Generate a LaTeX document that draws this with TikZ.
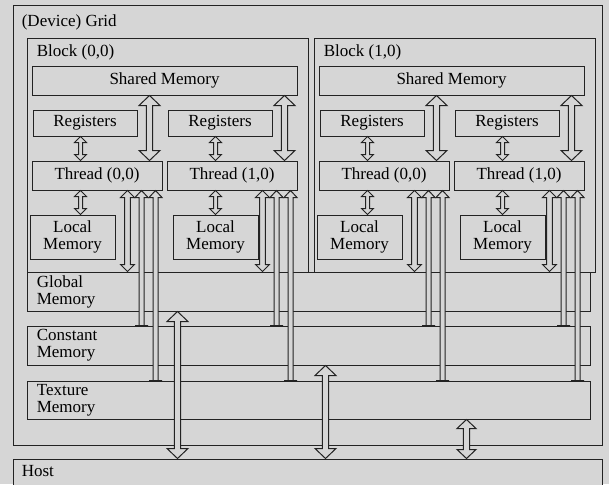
\documentclass[tikz,border=0pt]{standalone}
\usepackage{fontspec}
\setmainfont{Liberation Serif}
\usetikzlibrary{positioning,fit,calc}
\definecolor{paper}{RGB}{214,214,214}
\definecolor{ink}{RGB}{35,35,35}
\def\px{0.6pt}
% hollow block arrow: head half width, shaft half width, top head, bottom head, x point, top, bottom
\newcommand{\fatarrow}[7]{%
  \draw[fat] let \p1=#5, \p2=#6, \p3=#7 in
    (\x1,\y2) -- (\x1+#1*\px,\y2-#3*\px) -- (\x1+#2*\px,\y2-#3*\px)
    -- (\x1+#2*\px,\y3+#4*\px) -- (\x1+#1*\px,\y3+#4*\px) -- (\x1,\y3)
    -- (\x1-#1*\px,\y3+#4*\px) -- (\x1-#2*\px,\y3+#4*\px)
    -- (\x1-#2*\px,\y2-#3*\px) -- (\x1-#1*\px,\y2-#3*\px) -- cycle;}
\newcommand{\bigarr}[3]{\fatarrow{10.5}{3.2}{10}{10}{#1}{#2}{#3}}
\newcommand{\midarr}[3]{\fatarrow{7}{2.8}{7}{7}{#1}{#2}{#3}}
\newcommand{\smallarr}[3]{\fatarrow{6}{2}{6}{6}{#1}{#2}{#3}}
\newcommand{\uparr}[3]{\fatarrow{6.5}{2.5}{7}{0}{#1}{#2}{#3}}
\tikzset{
  box/.style={draw=ink,fill=paper,line width=0.6pt,inner sep=0pt},
  tag/.style={label={[align=center,inner sep=0pt]center:#1}},
  fat/.style={draw=ink,fill=paper,line width=0.6pt,line join=miter},
  txt/.style={inner sep=0pt,align=left},
}

\begin{document}
\begin{tikzpicture}[x=0.6pt,y=-0.6pt,font=\fontsize{10.2}{10.2}\selectfont]
  \useasboundingbox (0,0) rectangle (609,484);
  \clip (0,0) rectangle (609,484);
  \fill[paper] (0,0) rectangle (609,484);
  % device
  \node[box,fit={(13,5) (602,445)}] (grid) {};
  \node[txt,anchor=west] at ([shift={(9,18)}]grid.north west) {(Device) Grid};
  \node[box,fit={(27,272) (590,311)}] (glob) {};
  \node[box,fit={(27,326) (590,365)}] (cons) {};
  \node[box,fit={(27,381) (590,419)}] (tex) {};
  \node[txt,anchor=west] at ([shift={(10,0)}]glob.west) {Global\\Memory};
  \node[txt,anchor=west] at ([shift={(10,0)}]cons.west) {Constant\\Memory};
  \node[txt,anchor=west] at ([shift={(10,0)}]tex.west) {Texture\\Memory};
  % the two blocks
  \foreach \b/\dx in {0/0,1/287}{
    \node[box,fit={(27+\dx,38) (308+\dx,272)}] (blk\b) {};
    \node[txt,anchor=west] at ([shift={(10,15)}]blk\b.north west) {Block (\b,0)};
    \node[box,fit={(32+\dx,66) (297+\dx,95)},tag={Shared Memory}] (shm\b) {};
    \node[box,fit={(33+\dx,110) (137+\dx,136)},tag=Registers] (rega\b) {};
    \node[box,fit={(168+\dx,110) (272+\dx,136)},tag=Registers] (regb\b) {};
    \node[box,fit={(32+\dx,161) (162+\dx,190)},tag={Thread (0,0)}] (thra\b) {};
    \node[box,fit={(167+\dx,161) (297+\dx,190)},tag={Thread (1,0)}] (thrb\b) {};
    \node[box,fit={(30+\dx,215) (115+\dx,259)},tag={Local\\Memory}] (loca\b) {};
    \node[box,fit={(173+\dx,215) (258+\dx,259)},tag={Local\\Memory}] (locb\b) {};
    \foreach \t in {a,b}{
      \bigarr{([shift={(-13,0)}]thr\t\b.north east)}{(shm\b.south)}{(thr\t\b.north)}
      \smallarr{([shift={(49,0)}]thr\t\b.north west)}{(reg\t\b.south)}{(thr\t\b.north)}
      \smallarr{([shift={(49,0)}]thr\t\b.south west)}{(thr\t\b.south)}{(loc\t\b.north)}
      \midarr{([shift={(-35,0)}]thr\t\b.south east)}{(thr\t\b.south)}{(glob.north)}
      \uparr{([shift={(-21,0)}]thr\t\b.south east)}{(thr\t\b.south)}{(cons.north)}
      \uparr{([shift={(-7,0)}]thr\t\b.south east)}{(thr\t\b.south)}{(tex.north)}
    }
  }
  % host
  \node[box,fit={(13,459) (602,500)}] (host) {};
  \node[txt,anchor=west] at ([shift={(9,13)}]host.north west) {Host};
  \bigarr{([shift={(151,0)}]glob.south west)}{(glob.south)}{(host.north)}
  \bigarr{([shift={(299,0)}]cons.south west)}{(cons.south)}{(host.north)}
  \fatarrow{9.5}{3.2}{9}{9}{([shift={(440,0)}]tex.south west)}{(tex.south)}{(host.north)}
\end{tikzpicture}
\end{document}
